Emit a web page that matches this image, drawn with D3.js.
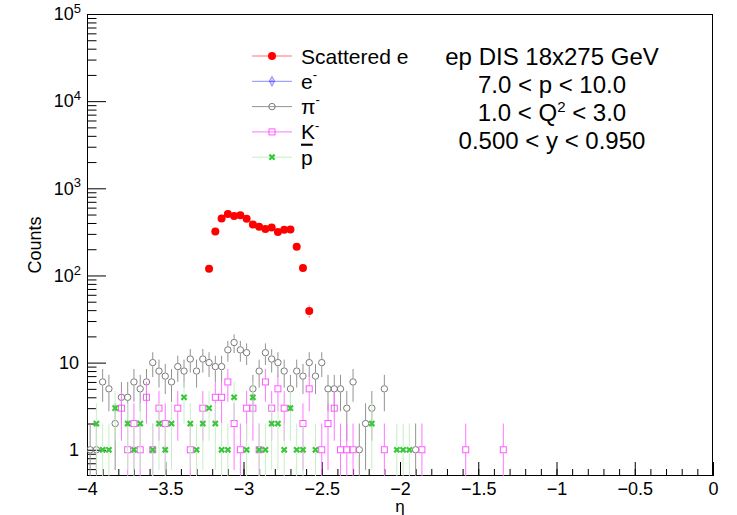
<!DOCTYPE html>
<html>
<head>
<meta charset="utf-8">
<script src="https://cdn.jsdelivr.net/npm/d3@7"></script>
<style>
body { margin: 0; background: #fff; }
svg text { font-family: "Liberation Sans", Arial, Helvetica, sans-serif; fill: #000; }
</style>
</head>
<body>
<div id="vis"></div>
<script>
// bin centres (eta) and counts per species
const ETA_SCAT = [-3.22, -3.18, -3.14, -3.10, -3.06, -3.02, -2.98, -2.94, -2.90, -2.86, -2.82, -2.78, -2.74, -2.70, -2.66, -2.62, -2.58];
const CNT_SCAT = [119, 319, 450, 508, 482, 491, 446, 384, 361, 342, 354, 316, 334, 336, 213, 122, 39];

const ETA_EM = [];
const CNT_EM = [];

const ETA_PI = [-3.98, -3.94, -3.90, -3.86, -3.82, -3.78, -3.74, -3.70, -3.66, -3.62, -3.58, -3.54, -3.50, -3.46, -3.42, -3.38,
	-3.34, -3.30, -3.26, -3.22, -3.18, -3.14, -3.10, -3.06, -3.02, -2.98, -2.94, -2.90, -2.86, -2.82, -2.78, -2.74,
	-2.70, -2.66, -2.62, -2.58, -2.54, -2.50, -2.46, -2.42, -2.38, -2.34, -2.30, -2.26, -2.22, -2.18, -2.10, -1.90];
const CNT_PI = [1, 1, 6, 5, 2, 4, 4, 6, 5, 6, 10, 8, 7, 6, 9, 8,
	11, 8, 11, 10, 9, 9, 14, 17, 14, 13, 5, 8, 13, 11, 10, 8,
	5, 8, 7, 10, 7, 10, 5, 5, 5, 3, 6, 1, 2, 3, 5, 1];

const ETA_K = [-3.78, -3.74, -3.70, -3.66, -3.62, -3.58, -3.54, -3.50, -3.42, -3.34, -3.26, -3.18, -3.14, -3.10, -3.06, -3.02,
	-2.98, -2.94, -2.90, -2.86, -2.82, -2.78, -2.74, -2.62, -2.58, -2.50, -2.46, -2.42, -2.38, -2.34, -2.30, -2.10,
	-1.86, -1.58, -1.34];
const CNT_K = [3, 1, 2, 1, 4, 1, 3, 2, 3, 1, 3, 4, 4, 6, 2, 1,
	3, 3, 1, 6, 3, 5, 3, 2, 5, 1, 2, 3, 1, 1, 1, 1,
	1, 1, 1];

const ETA_PBAR = [-3.94, -3.90, -3.86, -3.82, -3.74, -3.70, -3.66, -3.58, -3.54, -3.50, -3.46, -3.38, -3.34, -3.30, -3.26, -3.22,
	-3.18, -3.14, -3.10, -3.06, -2.98, -2.94, -2.90, -2.86, -2.82, -2.78, -2.74, -2.70, -2.66, -2.62, -2.54, -2.18,
	-2.02, -1.98, -1.94];
const CNT_PBAR = [2, 1, 1, 3, 2, 1, 2, 1, 2, 1, 2, 4, 2, 1, 2, 3,
	2, 1, 1, 4, 1, 4, 1, 1, 2, 2, 1, 3, 1, 1, 1, 2,
	1, 1, 1];

const X_TICKS = [-4, -3.5, -3, -2.5, -2, -1.5, -1, -0.5, 0];
const Y_TICKS = [1, 10, 100, 1000, 10000, 100000];
const INFO_LINES = ["ep DIS 18x275 GeV", "7.0 < p < 10.0", "1.0 < Q|2| < 3.0", "0.500 < y < 0.950"];

const FRAME_WIDTH = 737;
const FRAME_HEIGHT = 515;
const MARGINS = { left: 87, right: 24, top: 14, bottom: 39 };
const VIS_WIDTH = FRAME_WIDTH - MARGINS.left - MARGINS.right;
const VIS_HEIGHT = FRAME_HEIGHT - MARGINS.top - MARGINS.bottom;

const FRAME = d3.select("#vis")
	.append("svg")
	.attr("width", FRAME_WIDTH)
	.attr("height", FRAME_HEIGHT);

const X_SCALE = d3.scaleLinear().domain([-4, 0]).range([MARGINS.left, MARGINS.left + VIS_WIDTH]);
const Y_SCALE = d3.scaleLog().domain([0.5, 1e5]).range([MARGINS.top + VIS_HEIGHT, MARGINS.top]);

// series styles (drawn in this order)
const SERIES = [
	{ label: "Scattered e", sup: "", eta: ETA_SCAT, cnt: CNT_SCAT, shape: "dot", col: "#ff0000", line: "rgba(255,0,0,0.55)" },
	{ label: "e", sup: "-", eta: ETA_EM, cnt: CNT_EM, shape: "diamond", col: "rgba(60,60,255,0.55)", line: "rgba(0,0,255,0.45)" },
	{ label: "π", sup: "-", eta: ETA_PI, cnt: CNT_PI, shape: "circle", col: "#7a7a7a", line: "#939393" },
	{ label: "K", sup: "-", eta: ETA_K, cnt: CNT_K, shape: "square", col: "#ff55ff", line: "#ff77ff" },
	{ label: "p", sup: "", bar: true, eta: ETA_PBAR, cnt: CNT_PBAR, shape: "x", col: "#3cc83c", line: "#c6efc6" }
];

const MARK_R = { dot: 4, diamond: 3.2, circle: 3.2, square: 3, x: 2.6 };

const drawMarker = (g, shape, col) => {
	if (shape === "dot") {
		g.append("circle").attr("r", MARK_R.dot).attr("fill", col);
	} else if (shape === "circle") {
		g.append("circle").attr("r", MARK_R.circle).attr("fill", "none").attr("stroke", col).attr("stroke-width", 1);
	} else if (shape === "square") {
		g.append("rect").attr("x", -MARK_R.square).attr("y", -MARK_R.square)
			.attr("width", 2 * MARK_R.square).attr("height", 2 * MARK_R.square)
			.attr("fill", "none").attr("stroke", col).attr("stroke-width", 1);
	} else if (shape === "diamond") {
		g.append("path").attr("d", d3.symbol(d3.symbolDiamond, 24)()).attr("fill", "none").attr("stroke", col).attr("stroke-width", 1.2);
		g.append("path").attr("d", "M-2,0H2M0,-2V2").attr("stroke", col).attr("stroke-width", 1);
	} else {
		const r = MARK_R.x;
		g.append("path").attr("d", `M${-r},${-r}L${r},${r}M${-r},${r}L${r},${-r}`)
			.attr("stroke", col).attr("stroke-width", 2.2);
	}
};

FRAME.append("defs").append("clipPath").attr("id", "plotclip")
	.append("rect").attr("x", MARGINS.left).attr("y", MARGINS.top)
	.attr("width", VIS_WIDTH).attr("height", VIS_HEIGHT);

// axes
const X_AXIS = d3.axisBottom(X_SCALE).tickValues(X_TICKS).tickSizeInner(-14).tickSizeOuter(0).tickPadding(6)
	.tickFormat(d3.format("~g"));
const X_MINOR = d3.axisBottom(X_SCALE).tickValues(d3.range(-40, 1).map((d) => d / 10)).tickSizeInner(-7).tickSizeOuter(0).tickFormat("");

const xg = FRAME.append("g").attr("transform", `translate(0, ${MARGINS.top + VIS_HEIGHT})`).call(X_AXIS);
FRAME.append("g").attr("transform", `translate(0, ${MARGINS.top + VIS_HEIGHT})`).call(X_MINOR);
xg.selectAll("text").attr("font-size", 18);

const Y_AXIS = d3.axisLeft(Y_SCALE).tickValues(Y_TICKS).tickSizeInner(-19).tickSizeOuter(0).tickPadding(8).tickFormat("");
const minorY = [0.6, 0.7, 0.8, 0.9];
[1, 10, 100, 1000, 10000].forEach((p) => { for (let k = 2; k <= 9; k++) minorY.push(k * p); });
const Y_MINOR = d3.axisLeft(Y_SCALE).tickValues(minorY).tickSizeInner(-9.5).tickSizeOuter(0).tickFormat("");

const yg = FRAME.append("g").attr("transform", `translate(${MARGINS.left}, 0)`).call(Y_AXIS);
FRAME.append("g").attr("transform", `translate(${MARGINS.left}, 0)`).call(Y_MINOR);
yg.selectAll(".tick text").each(function (d) {
	const t = d3.select(this).attr("font-size", 18).attr("x", -8);
	const e = Math.round(Math.log10(d));
	if (e < 2) {
		t.text(d);
	} else {
		t.attr("x", -6);
		t.append("tspan").text("10");
		t.append("tspan").attr("font-size", 13).attr("dy", "-0.55em").text(e);
	}
});
FRAME.selectAll(".domain").remove();
FRAME.selectAll(".tick line").attr("stroke", "#000").attr("stroke-width", 1);

// frame box
FRAME.append("rect")
	.attr("x", MARGINS.left + 0.5).attr("y", MARGINS.top + 0.5)
	.attr("width", VIS_WIDTH - 1).attr("height", VIS_HEIGHT - 1)
	.attr("fill", "none").attr("stroke", "#000").attr("stroke-width", 1);

// data: error bars (sqrt N) with a gap at the marker, then markers
const DATA_G = FRAME.append("g").attr("clip-path", "url(#plotclip)");
SERIES.forEach((s) => {
	const pts = s.eta.map((x, i) => ({ x: x, n: s.cnt[i] }));
	const r = MARK_R[s.shape] + 0.5;
	const g = DATA_G.append("g");
	pts.forEach((d) => {
		const cx = X_SCALE(d.x);
		const cy = Y_SCALE(d.n);
		const err = Math.sqrt(d.n);
		const yHi = Y_SCALE(d.n + err);
		const lo = d.n - err;
		const yLo = lo > 0.5 ? Y_SCALE(lo) : MARGINS.top + VIS_HEIGHT + 2;
		if (cy - r > yHi) g.append("line").attr("x1", cx).attr("x2", cx).attr("y1", yHi).attr("y2", cy - r).attr("stroke", s.line);
		if (yLo > cy + r) g.append("line").attr("x1", cx).attr("x2", cx).attr("y1", cy + r).attr("y2", yLo).attr("stroke", s.line);
	});
	pts.forEach((d) => {
		const m = g.append("g").attr("transform", `translate(${X_SCALE(d.x)}, ${Y_SCALE(d.n)})`);
		drawMarker(m, s.shape, s.col);
	});
});

// legend
const LEG_X = 252, LEG_Y0 = 56, LEG_DY = 25.3;
SERIES.forEach((s, i) => {
	const y = LEG_Y0 + i * LEG_DY;
	FRAME.append("line").attr("x1", LEG_X).attr("x2", LEG_X + 40).attr("y1", y).attr("y2", y).attr("stroke", s.line);
	drawMarker(FRAME.append("g").attr("transform", `translate(${LEG_X + 20}, ${y})`), s.shape, s.col);
	const t = FRAME.append("text").attr("x", LEG_X + 49).attr("y", y + 7.5).attr("font-size", 21);
	const base = t.append("tspan").text(s.label);
	if (s.bar) base.style("text-decoration", "overline");
	if (s.sup) t.append("tspan").attr("font-size", 13).attr("dy", "-0.75em").text(s.sup);
});

// info text
const INFO_X = 552, INFO_Y0 = 65, INFO_DY = 28;
INFO_LINES.forEach((line, i) => {
	const t = FRAME.append("text").attr("x", INFO_X).attr("y", INFO_Y0 + i * INFO_DY)
		.attr("text-anchor", "middle").attr("font-size", 24);
	const parts = line.split("|");
	t.append("tspan").text(parts[0]);
	if (parts.length > 1) {
		t.append("tspan").attr("font-size", 15).attr("dy", "-0.6em").text(parts[1]);
		t.append("tspan").attr("dy", "0.375em").text(parts[2]);
	}
});

// axis titles
FRAME.append("text")
	.attr("transform", `translate(41, 245) rotate(-90)`)
	.attr("text-anchor", "middle").attr("font-size", 18)
	.text("Counts");

FRAME.append("text")
	.attr("x", 400).attr("y", 512)
	.attr("text-anchor", "middle").attr("font-size", 17)
	.text("η");
</script>
</body>
</html>
